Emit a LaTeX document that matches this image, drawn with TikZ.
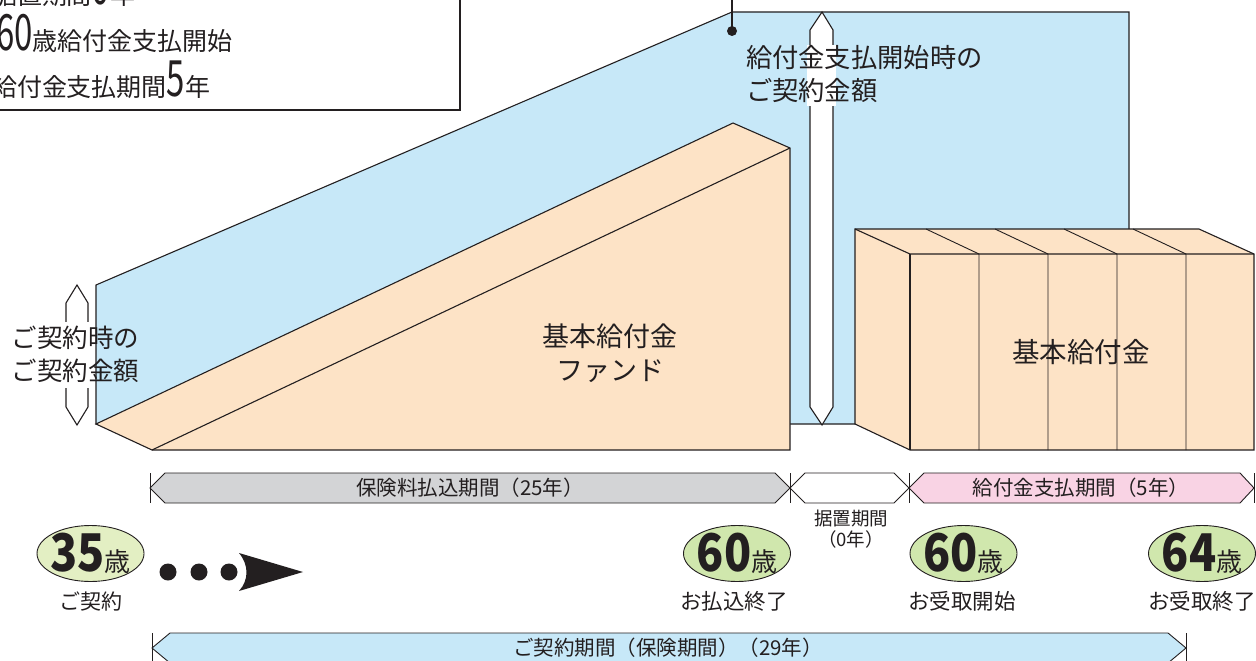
\documentclass[tikz,border=0pt]{standalone}
\usepackage{fontspec}
\setmainfont{Noto Sans CJK JP}
\usepackage{graphicx}
\usetikzlibrary{shapes.geometric}
\definecolor{bluef}{HTML}{C7E8F8}
\definecolor{orangef}{HTML}{FDE3C6}
\definecolor{grayf}{HTML}{D3D4D6}
\definecolor{pinkf}{HTML}{F9D3E4}
\definecolor{greenf}{HTML}{D0E7AD}
\definecolor{greenl}{HTML}{E3EFC3}
\definecolor{linec}{HTML}{231F20}
\definecolor{textc}{HTML}{231F20}
\newcommand{\jfs}[1]{\fontsize{#1}{#1}\selectfont}
\newcommand{\bignum}[1]{{\jfs{50}\scalebox{0.66}[1]{#1}}}
\newcommand{\agenum}[1]{{\jfs{52}\bfseries\scalebox{0.86}[1]{#1}}}
\newcommand{\saifont}{\jfs{26}\mdseries}
\tikzset{
  ln/.style={draw=linec, line width=1.1pt, line join=miter},
  thin ln/.style={draw=linec, line width=0.9pt},
  txt/.style={inner sep=0pt, outer sep=0pt, text=textc},
  ageell/.style={ellipse, draw=linec, line width=0.9pt, fill=greenf, minimum width=107pt, minimum height=56pt, inner sep=0pt},
  dblarrow/.style={ln, fill=white},
}
\begin{document}
\begin{tikzpicture}[x=1pt, y=-1pt]
\clip (0,0) rectangle (1256,661);
\fill[white] (0,0) rectangle (1256,661);

% ---- top-left legend box
\draw[ln] (-10,-10) rectangle (460,110);
\node[txt, anchor=base west] (leg1) at (-8,5) {\jfs{25}据置期間\bignum{0}年};
\node[txt, anchor=base west] (leg2) at (-4,51) {\bignum{60}\jfs{25}歳給付金支払開始};
\node[txt, anchor=base west] (leg3) at (-8,96) {\jfs{25}給付金支払期間\bignum{5}年};

% ---- blue contract amount region
\coordinate (bBL) at (96,424);
\coordinate (bTL) at (96,285);
\coordinate (bTM) at (732,12);
\coordinate (bTR) at (1129,12);
\coordinate (bBR) at (1129,424);
\filldraw[ln, fill=bluef] (bBL) -- (bTL) -- (bTM) -- (bTR) -- (bBR) -- cycle;

% pointer
\coordinate (ptop) at (732,-5);
\coordinate (pdot) at (732,31);
\draw[linec, line width=1.1pt] (ptop) -- (pdot);
\fill[linec] (pdot) circle (5);

% ---- fund wedge
\coordinate (wBL) at (96,424);
\coordinate (wBT) at (733,123);
\coordinate (wFT) at (790,148);
\coordinate (wFB) at (790,450);
\coordinate (wFL) at (152,450);
\filldraw[ln, fill=orangef] (wBL) -- (wBT) -- (wFT) -- (wFB) -- (wFL) -- cycle;
\draw[ln] (wFL) -- (wFT);

% ---- benefit blocks
\coordinate (kBL) at (855,424);
\coordinate (kBT) at (855,229);
\coordinate (kFT) at (910,254);
\coordinate (kFB) at (910,450);
\coordinate (kRT) at (1199,229);
\coordinate (kRF) at (1254,254);
\coordinate (kRB) at (1254,450);
\filldraw[ln, fill=orangef] (kBL) -- (kBT) -- (kRT) -- (kRF) -- (kRB) -- (kFB) -- cycle;
\draw[ln] (kBT) -- (kFT) -- (kRF);
\draw[ln] (kFT) -- (kFB);
\foreach \xf in {979,1048,1117,1186}{
  \draw[thin ln] (\xf-53,229) -- (\xf,254) -- (\xf,450);
}

% ---- double arrows
\filldraw[dblarrow] (77,285) -- (88,303) -- (88,407) -- (77,425) -- (66,407) -- (66,303) -- cycle;
\fill[white] (63,322) rectangle (91,388);
\filldraw[dblarrow] (822,12) -- (833,30) -- (833,407) -- (822,425) -- (810,407) -- (810,30) -- cycle;
\fill[white] (807,45) rectangle (836,106);

% ---- labels in the picture
\node[txt, anchor=base west] (amt1a) at (12,347) {\jfs{25.5}ご契約時の};
\node[txt, anchor=base west] (amt1b) at (12,380) {\jfs{25.5}ご契約金額};
\node[txt, anchor=base west] (amt2a) at (746,68) {\jfs{26.3}給付金支払開始時の};
\node[txt, anchor=base west] (amt2b) at (746,100) {\jfs{26.3}ご契約金額};
\node[txt, anchor=base] (fund1) at (610,346) {\jfs{27}基本給付金};
\node[txt, anchor=base] (fund2) at (610,380) {\jfs{27}ファンド};
\node[txt, anchor=base] (ben) at (1081,362) {\jfs{27.5}基本給付金};

% ---- period bars
\filldraw[thin ln, fill=grayf] (150,488) -- (165,473) -- (775,473) -- (790,488) -- (775,503) -- (165,503) -- cycle;
\filldraw[thin ln, fill=white] (790,488) -- (805,473) -- (894,473) -- (909,488) -- (894,503) -- (805,503) -- cycle;
\filldraw[thin ln, fill=pinkf] (909,488) -- (924,473) -- (1240,473) -- (1254,488) -- (1240,503) -- (924,503) -- cycle;
\foreach \xt in {150,790,909,1254}{
  \draw[thin ln] (\xt,473) -- (\xt,503);
}
\node[txt, anchor=base] (pay) at (470,495.5) {\jfs{20.5}保険料払込期間（25年）};
\node[txt, anchor=base] (benp) at (1081,495.5) {\jfs{20.5}給付金支払期間（5年）};
\node[txt, anchor=base] (def1) at (851,525) {\jfs{18.5}据置期間};
\node[txt, anchor=base] (def2) at (851,546) {\jfs{18.5}（0年）};

% ---- ages
\node[ageell, fill=greenl] (e35) at (90.5,553.5) {};
\node[ageell] (e60a) at (737,553.5) {};
\node[ageell] (e60b) at (963.5,553.5) {};
\node[ageell] (e64) at (1202,553.5) {};
\node[txt, anchor=base] (n35) at (90.5,571) {\agenum{35}{\saifont 歳}};
\node[txt, anchor=base] (n60a) at (737,571) {\agenum{60}{\saifont 歳}};
\node[txt, anchor=base] (n60b) at (963.5,571) {\agenum{60}{\saifont 歳}};
\node[txt, anchor=base] (n64) at (1202,571) {\agenum{64}{\saifont 歳}};
\node[txt, anchor=base] (l35) at (91,609) {\jfs{21}ご契約};
\node[txt, anchor=base] (l60a) at (734,609) {\jfs{21.5}お払込終了};
\node[txt, anchor=base] (l60b) at (962,609) {\jfs{21.5}お受取開始};
\node[txt, anchor=base] (l64) at (1202,609) {\jfs{21.5}お受取終了};

% dots and arrowhead
\foreach \xd in {168,199,229}{
  \fill[linec] (\xd,572) circle (8.5);
}
\fill[linec] (303,572) -- (239,553) .. controls (249,565) and (249,580) .. (239,591) -- cycle;

% ---- contract period bar
\filldraw[thin ln, fill=bluef] (152,648) -- (170,633) -- (1168,633) -- (1186,648) -- (1168,663) -- (170,663) -- cycle;
\draw[thin ln] (152,633) -- (152,663);
\draw[thin ln] (1186,633) -- (1186,663);
\node[txt, anchor=base] (cp) at (668,655.5) {\jfs{20.5}ご契約期間（保険期間）（29年）};
\end{tikzpicture}
\end{document}
